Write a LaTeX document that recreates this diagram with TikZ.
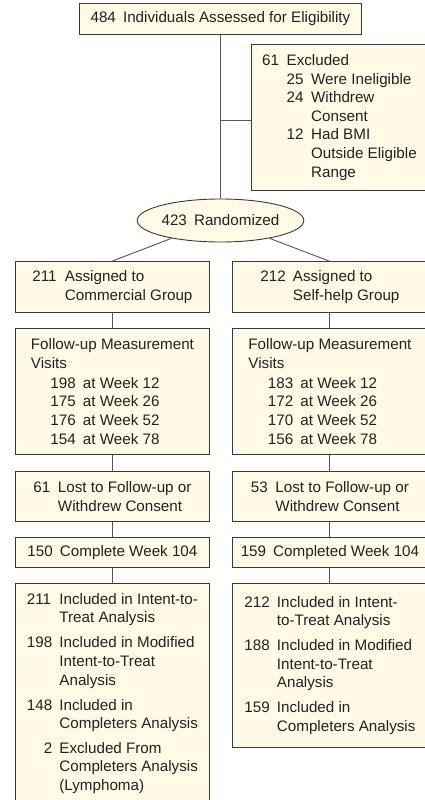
\documentclass[tikz,border=0pt]{standalone}
\usepackage{fontspec}
\setmainfont{Liberation Sans}
\usetikzlibrary{shapes.geometric}
\definecolor{boxfill}{HTML}{FFFAE6}
\definecolor{boxline}{HTML}{3A3A3A}
\definecolor{conline}{HTML}{555555}
\definecolor{txt}{HTML}{222222}
\newcommand\nthree[1]{\makebox[32.5pt][l]{#1}}
\newcommand\ntwo[1]{\makebox[24.5pt][l]{#1}}
\newcommand\hthree{\hspace*{32.5pt}}
\newcommand\htwo{\hspace*{24.5pt}}
\tikzset{
  cbox/.style={draw=boxline, fill=boxfill, line width=0.9pt, anchor=north west,
    inner xsep=2pt, inner ysep=0pt, align=left, text=txt,
    font=\fontsize{15.2}{18.6}\selectfont},
  conn/.style={draw=conline, line width=0.9pt}
}
\begin{document}
\begin{tikzpicture}[x=1pt,y=-1pt]
\useasboundingbox (0,0) rectangle (425,800);
\clip (0,0) rectangle (425,800);

% top
\node[cbox, minimum width=282pt, minimum height=31pt] (top) at (79,3)
  {\nthree{484}Individuals Assessed for Eligibility};

% excluded
\node[cbox, minimum width=176pt, minimum height=146pt] (excl) at (251,44)
  {\ntwo{61}Excluded\\
   \htwo\ntwo{25}Were Ineligible\\
   \htwo\ntwo{24}Withdrew\\
   \htwo\htwo Consent\\
   \htwo\ntwo{12}Had BMI\\
   \htwo\htwo Outside Eligible\\
   \htwo\htwo Range};

% randomized
\node[ellipse, draw=boxline, fill=boxfill, line width=0.9pt, inner sep=0pt,
  minimum width=159pt, minimum height=43pt, text=txt,
  font=\fontsize{15.2}{18.6}\selectfont] (rand) at (220.5,220.5)
  {\nthree{423}Randomized};

% assigned
\node[cbox, minimum width=194pt, minimum height=51pt] (lasgn) at (15,261)
  {\nthree{211}Assigned to\\ \hthree Commercial Group};
\node[cbox, minimum width=195pt, minimum height=51pt] (rasgn) at (232,261)
  {\nthree{212}Assigned to\\ \hthree Self-help Group};

% follow-up
\node[cbox, minimum width=194pt, minimum height=126pt] (lfu) at (15,328)
  {Follow-up Measurement\\
   Visits\\[1.5pt]
   \hspace*{19.5pt}\nthree{198}at Week 12\\
   \hspace*{19.5pt}\nthree{175}at Week 26\\
   \hspace*{19.5pt}\nthree{176}at Week 52\\
   \hspace*{19.5pt}\nthree{154}at Week 78};
\node[cbox, minimum width=195pt, minimum height=126pt] (rfu) at (232,328)
  {Follow-up Measurement\\
   Visits\\[1.5pt]
   \hspace*{19.5pt}\nthree{183}at Week 12\\
   \hspace*{19.5pt}\nthree{172}at Week 26\\
   \hspace*{19.5pt}\nthree{170}at Week 52\\
   \hspace*{19.5pt}\nthree{156}at Week 78};

% lost
\node[cbox, minimum width=194pt, minimum height=50pt] (llost) at (15,471)
  {\ntwo{61}Lost to Follow-up or\\ \htwo Withdrew Consent};
\node[cbox, minimum width=195pt, minimum height=50pt] (rlost) at (232,471)
  {\ntwo{53}Lost to Follow-up or\\ \htwo Withdrew Consent};

% complete
\node[cbox, minimum width=194pt, minimum height=30pt] (lcomp) at (15,537)
  {\nthree{150}Complete Week 104};
\node[cbox, minimum width=195pt, minimum height=30pt] (rcomp) at (232,537)
  {\nthree{159}Completed Week 104};

% final
\node[cbox, minimum width=194pt, minimum height=220pt] (lfin) at (15,583)
  {\nthree{211}Included in Intent-to-\\
   \hthree Treat Analysis\\[6.4pt]
   \nthree{198}Included in Modified\\
   \hthree Intent-to-Treat\\
   \hthree Analysis\\[6.4pt]
   \nthree{148}Included in\\
   \hthree Completers Analysis\\[6pt]
   \makebox[32.5pt][l]{\makebox[25.4pt][r]{2}}Excluded From\\
   \hthree Completers Analysis\\
   \hthree (Lymphoma)};
\node[cbox, minimum width=195pt, minimum height=164pt] (rfin) at (232,583)
  {\nthree{212}Included in Intent-\\
   \hthree to-Treat Analysis\\[6.4pt]
   \nthree{188}Included in Modified\\
   \hthree Intent-to-Treat\\
   \hthree Analysis\\[6.4pt]
   \nthree{159}Included in\\
   \hthree Completers Analysis};

% connectors
\coordinate (j) at (220,120);
\draw[conn] (top.south) -- (rand.north);
\draw[conn] (j) -- (j -| excl.west);
\draw[conn] (rand.200) -- (lasgn.north);
\draw[conn] (rand.-20) -- (rasgn.north -| 329,0);
\draw[conn] (lasgn.south) -- (lfu.north);
\draw[conn] (rasgn.south -| 329,0) -- (rfu.north -| 329,0);
\draw[conn] (lfu.south) -- (llost.north);
\draw[conn] (rfu.south -| 329,0) -- (rlost.north -| 329,0);
\draw[conn] (llost.south) -- (lcomp.north);
\draw[conn] (rlost.south -| 329,0) -- (rcomp.north -| 329,0);
\draw[conn] (lcomp.south) -- (lfin.north);
\draw[conn] (rcomp.south -| 329,0) -- (rfin.north -| 329,0);
\end{tikzpicture}
\end{document}
